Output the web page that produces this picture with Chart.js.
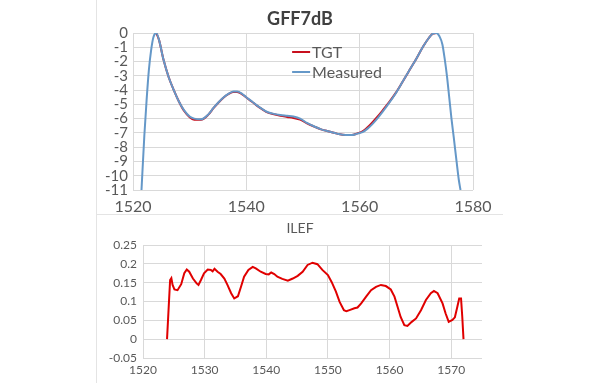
<!DOCTYPE html>
<html>
<head>
<meta charset="utf-8">
<script src="https://cdn.jsdelivr.net/npm/chart.js@4"></script>
<style>
	body { margin: 0; width: 600px; height: 383px; background: #fff; position: relative; overflow: hidden; }
	.box { position: absolute; left: 96px; border-left: 1px solid #e4e4e4; }
	#topBox { top: 0; height: 214px; border-bottom: 1px solid #e4e4e4; }
	#bottomBox { top: 215px; height: 168px; }
	canvas { display: block; }
</style>
</head>
<body>
<div class="box" id="topBox"><canvas id="gff-chart" width="406" height="214"></canvas></div>
<div class="box" id="bottomBox"><canvas id="ilef-chart" width="406" height="168"></canvas></div>
<script>
// GFF7dB, measured curve (wavelength nm / loss dB)
const measuredWl = [1521.5, 1522.0, 1522.4, 1522.8, 1523.2, 1523.6, 1524.1, 1524.6, 1525.4, 1526.3, 1527.2, 1528.1, 1529.0, 1530.0, 1530.8, 1532.0, 1533.3, 1534.2, 1535.1, 1536.0, 1536.9, 1537.7, 1538.4, 1539.2, 1540.0, 1541.0, 1541.8, 1542.7, 1543.5, 1544.7, 1546.0, 1547.2, 1548.3, 1549.5, 1550.7, 1552.0, 1553.2, 1554.6, 1556.0, 1557.5, 1558.6, 1559.6, 1560.5, 1561.4, 1562.2, 1563.1, 1564.0, 1565.2, 1566.4, 1567.6, 1568.8, 1570.0, 1571.2, 1572.2, 1572.9, 1573.5, 1574.1, 1574.6, 1575.0, 1575.4, 1575.8, 1576.2, 1576.6, 1577.1, 1577.5, 1577.8]
const measuredDb = [-11, -7.2, -4.7, -2.6, -1.2, -0.3, 0, -0.5, -1.9, -3.1, -4.0, -4.8, -5.4, -5.85, -6.0, -6.05, -5.7, -5.25, -4.85, -4.5, -4.25, -4.1, -4.1, -4.25, -4.5, -4.8, -5.05, -5.3, -5.5, -5.65, -5.75, -5.8, -5.85, -6.0, -6.3, -6.55, -6.75, -6.9, -7.05, -7.15, -7.15, -7.05, -6.95, -6.7, -6.4, -6.0, -5.55, -4.9, -4.2, -3.4, -2.6, -1.8, -0.95, -0.35, -0.05, 0, -0.25, -0.8, -1.8, -3.0, -4.5, -6.0, -7.3, -9.0, -10.3, -11]

// GFF7dB, target curve
const tgtWl = [1524.1, 1524.6, 1525.4, 1526.3, 1527.2, 1528.1, 1529.0, 1530.0, 1530.8, 1532.0, 1533.3, 1534.2, 1535.1, 1536.0, 1536.9, 1537.7, 1538.4, 1539.2, 1540.0, 1541.0, 1541.8, 1542.7, 1543.5, 1544.7, 1546.0, 1547.2, 1548.3, 1549.5, 1550.7, 1552.0, 1553.2, 1554.6, 1556.0, 1557.5, 1558.6, 1559.6, 1560.5, 1561.4, 1562.2, 1563.1, 1564.0, 1565.2, 1566.4, 1567.6, 1568.8, 1570.0, 1571.2, 1572.2, 1572.9, 1573.5]
const tgtDb = [0, -0.5, -1.9, -3.1, -4.0, -4.8, -5.45, -5.9, -6.07, -6.08, -5.72, -5.27, -4.87, -4.52, -4.27, -4.13, -4.14, -4.28, -4.52, -4.82, -5.07, -5.32, -5.52, -5.68, -5.8, -5.88, -5.95, -6.07, -6.33, -6.56, -6.75, -6.9, -7.05, -7.15, -7.15, -7.03, -6.9, -6.6, -6.28, -5.88, -5.45, -4.85, -4.18, -3.4, -2.6, -1.8, -0.95, -0.35, -0.05, 0]

const gffXTicks = [1520, 1540, 1560, 1580]
const gffYTicks = [0, -1, -2, -3, -4, -5, -6, -7, -8, -9, -10, -11]

// ILEF
const ilefWl = [1523.9, 1524.2, 1524.4, 1524.6, 1524.8, 1525.1, 1525.6, 1526.2, 1526.7, 1527.1, 1527.5, 1528.1, 1528.7, 1529.0, 1529.4, 1529.9, 1530.5, 1531.0, 1531.3, 1531.6, 1532.1, 1532.6, 1533.2, 1533.7, 1534.3, 1534.8, 1535.4, 1535.9, 1536.4, 1537.1, 1537.8, 1538.3, 1539.1, 1539.9, 1540.4, 1540.8, 1541.3, 1541.8, 1542.6, 1543.5, 1544.3, 1545.1, 1545.9, 1546.7, 1547.5, 1548.3, 1549.1, 1550.0, 1550.6, 1551.3, 1551.9, 1552.6, 1553.0, 1553.5, 1554.3, 1554.8, 1555.4, 1556.2, 1557.0, 1557.8, 1558.6, 1559.4, 1560.2, 1560.8, 1561.3, 1561.8, 1562.4, 1562.9, 1563.6, 1564.3, 1565.1, 1565.9, 1566.7, 1567.2, 1567.8, 1568.6, 1569.1, 1569.6, 1570.2, 1570.6, 1571.0, 1571.3, 1571.6, 1571.8, 1572.0]
const ilefVal = [0, 0.095, 0.157, 0.162, 0.144, 0.132, 0.13, 0.146, 0.175, 0.185, 0.179, 0.161, 0.148, 0.144, 0.157, 0.175, 0.185, 0.184, 0.18, 0.187, 0.179, 0.173, 0.161, 0.144, 0.122, 0.108, 0.114, 0.139, 0.166, 0.184, 0.192, 0.188, 0.179, 0.173, 0.172, 0.177, 0.173, 0.166, 0.16, 0.155, 0.161, 0.168, 0.179, 0.197, 0.203, 0.199, 0.184, 0.17, 0.152, 0.126, 0.099, 0.077, 0.074, 0.077, 0.082, 0.084, 0.095, 0.113, 0.13, 0.139, 0.144, 0.141, 0.132, 0.113, 0.086, 0.059, 0.037, 0.035, 0.046, 0.055, 0.077, 0.104, 0.122, 0.128, 0.122, 0.095, 0.068, 0.046, 0.051, 0.058, 0.086, 0.108, 0.108, 0.059, 0]

const ilefXTicks = [1520, 1530, 1540, 1550, 1560, 1570]
const ilefYTicks = [0.25, 0.2, 0.15, 0.1, 0.05, 0, -0.05]

const toPoints = (xs, ys) => xs.map((x, i) => { return { x: x, y: ys[i] } })
const plain = v => String(Number(v.toFixed(2)))
const fixedTicks = values => scale => { scale.ticks = values.map(v => { return { value: v } }) }

const fontFamily = 'Lato, "Liberation Sans", sans-serif'
Chart.defaults.font.family = fontFamily
Chart.defaults.color = '#595959'

const gridColor = '#d9d9d9'

// Excel centres the title on the whole chart box, not on the plot
const centerTitle = {
	id: 'centerTitle',
	afterDraw(chart, args, opts) {
		const { ctx } = chart
		ctx.save()
		ctx.font = opts.font
		ctx.fillStyle = opts.color
		ctx.textAlign = 'center'
		ctx.textBaseline = 'middle'
		ctx.fillText(opts.text, chart.width / 2, opts.y)
		ctx.restore()
	}
}

// legend drawn inside the plot area, like the original
const insideLegend = {
	id: 'insideLegend',
	afterDatasetsDraw(chart) {
		const { ctx, chartArea } = chart
		const x0 = chartArea.left + chartArea.width * 0.468
		ctx.save()
		ctx.font = '16px ' + fontFamily
		ctx.textBaseline = 'middle'
		chart.data.datasets.forEach((ds, i) => {
			const y = chartArea.top + 19 + i * 20
			ctx.strokeStyle = ds.borderColor
			ctx.lineWidth = 2
			ctx.beginPath()
			ctx.moveTo(x0, y)
			ctx.lineTo(x0 + 18, y)
			ctx.stroke()
			ctx.fillStyle = '#595959'
			ctx.fillText(ds.label, x0 + 20, y + 1)
		})
		ctx.restore()
	}
}

new Chart(document.getElementById('gff-chart'), {
	type: 'line',
	data: {
		datasets: [{
			label: 'TGT',
			data: toPoints(tgtWl, tgtDb),
			borderColor: '#c8101e',
			order: 1
		},
		{
			label: 'Measured',
			data: toPoints(measuredWl, measuredDb),
			borderColor: '#6598c8',
			order: 0
		}]
	},
	options: {
		responsive: false,
		animation: false,
		events: [],
		elements: {
			point: { radius: 0 },
			line: { borderWidth: 2, cubicInterpolationMode: 'monotone' }
		},
		layout: { padding: { left: 0, right: 30, top: 33, bottom: 0 } },
		scales: {
			x: {
				type: 'linear',
				min: 1520,
				max: 1580,
				afterBuildTicks: fixedTicks(gffXTicks),
				ticks: { padding: 7, autoSkip: false, maxRotation: 0, font: { size: 16 }, callback: plain },
				grid: { color: gridColor, drawTicks: false },
				border: { display: false },
				afterFit: s => { s.height = 24 }
			},
			y: {
				min: -11,
				max: 0,
				afterBuildTicks: fixedTicks(gffYTicks),
				ticks: { padding: 5, autoSkip: false, font: { size: 15 }, callback: plain },
				grid: { color: gridColor, drawTicks: false },
				border: { display: false },
				afterFit: s => { s.width = 36 }
			}
		},
		plugins: {
			legend: { display: false },
			tooltip: { enabled: false },
			centerTitle: { text: 'GFF7dB', font: 'bold 18px ' + fontFamily, color: '#404040', y: 19 }
		}
	},
	plugins: [insideLegend, centerTitle]
})

new Chart(document.getElementById('ilef-chart'), {
	type: 'line',
	data: {
		datasets: [{
			label: 'ILEF',
			data: toPoints(ilefWl, ilefVal),
			borderColor: '#e00000',
			borderWidth: 2,
			tension: 0
		}]
	},
	options: {
		responsive: false,
		animation: false,
		events: [],
		elements: { point: { radius: 0 } },
		layout: { padding: { left: 0, right: 21, top: 30, bottom: 0 } },
		scales: {
			x: {
				type: 'linear',
				min: 1520,
				max: 1575,
				afterBuildTicks: fixedTicks(ilefXTicks),
				ticks: { padding: 5, autoSkip: false, maxRotation: 0, font: { size: 12 }, callback: plain },
				grid: { color: gridColor, drawTicks: false },
				border: { display: false },
				afterFit: s => { s.height = 25 }
			},
			y: {
				min: -0.05,
				max: 0.25,
				afterBuildTicks: fixedTicks(ilefYTicks),
				ticks: { padding: 6, autoSkip: false, font: { size: 12 }, callback: plain },
				grid: { color: gridColor, drawTicks: false },
				border: { display: false },
				afterFit: s => { s.width = 46 }
			}
		},
		plugins: {
			legend: { display: false },
			tooltip: { enabled: false },
			centerTitle: { text: 'ILEF', font: '14px ' + fontFamily, color: '#595959', y: 13 }
		}
	},
	plugins: [centerTitle]
})
</script>
</body>
</html>
